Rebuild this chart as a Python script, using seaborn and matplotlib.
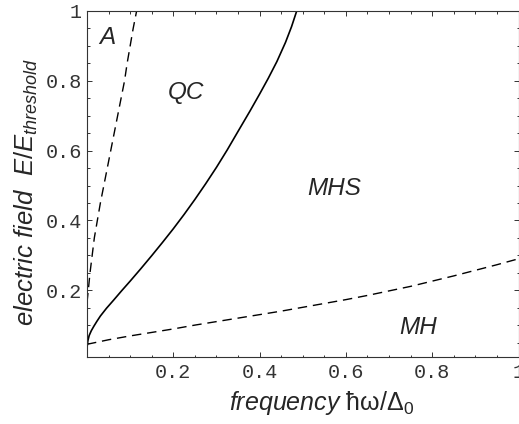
import matplotlib
matplotlib.use("Agg")
import matplotlib.pyplot as plt
import seaborn as sns
import pandas as pd
from matplotlib.ticker import MultipleLocator, FixedLocator, FixedFormatter

# ---- data ----
# solid boundary (QC / MHS)
qc_x = [0.000, 0.002, 0.005, 0.010, 0.016, 0.023, 0.031, 0.045, 0.062, 0.080,
        0.100, 0.125, 0.150, 0.175, 0.200, 0.225, 0.250, 0.275, 0.300, 0.325,
        0.350, 0.378, 0.400, 0.420, 0.440, 0.460, 0.474, 0.486]
qc_y = [0.035, 0.055, 0.070, 0.084, 0.097, 0.111, 0.126, 0.148, 0.172, 0.198,
        0.226, 0.262, 0.299, 0.337, 0.376, 0.417, 0.460, 0.505, 0.552, 0.602,
        0.655, 0.714, 0.762, 0.807, 0.855, 0.910, 0.955, 1.000]
# steep dashed boundary (A / QC)
a_x = [0.000, 0.003, 0.007, 0.012, 0.017, 0.024, 0.031, 0.039, 0.047, 0.055,
       0.063, 0.071, 0.079, 0.087, 0.093, 0.100, 0.107, 0.115]
a_y = [0.165, 0.200, 0.250, 0.300, 0.350, 0.400, 0.450, 0.500, 0.550, 0.600,
       0.650, 0.700, 0.750, 0.800, 0.850, 0.900, 0.950, 1.000]
# lower dashed boundary (MHS / MH)
mh_x = [0.000, 0.050, 0.100, 0.150, 0.200, 0.250, 0.300, 0.350, 0.400, 0.450,
        0.500, 0.550, 0.600, 0.650, 0.700, 0.750, 0.800, 0.850, 0.900, 0.950,
        1.000]
mh_y = [0.045, 0.058, 0.069, 0.079, 0.089, 0.100, 0.110, 0.120, 0.130, 0.140,
        0.151, 0.162, 0.173, 0.185, 0.198, 0.211, 0.226, 0.241, 0.257, 0.273,
        0.290]

tick_vals = [0.2, 0.4, 0.6, 0.8, 1.0]
tick_labels = ["0.2", "0.4", "0.6", "0.8", "1"]

region_names = ["A", "QC", "MHS", "MH"]
region_x = [0.048, 0.229, 0.572, 0.768]
region_y = [0.924, 0.767, 0.491, 0.094]

# ---- style ----
sns.set_style("ticks")
plt.rcParams["font.family"] = ["Liberation Sans", "DejaVu Sans"]
plt.rcParams["mathtext.fontset"] = "custom"
plt.rcParams["mathtext.rm"] = "Liberation Sans"
plt.rcParams["mathtext.it"] = "Liberation Sans:italic"
plt.rcParams["mathtext.bf"] = "Liberation Sans:bold"

fig = plt.figure(figsize=(5.19, 4.24), dpi=100)
ax = fig.add_axes([87 / 519, 67 / 424, 431.5 / 519, 346 / 424])

df_qc = pd.DataFrame({"x": qc_x, "y": qc_y})
df_a = pd.DataFrame({"x": a_x, "y": a_y})
df_mh = pd.DataFrame({"x": mh_x, "y": mh_y})

sns.lineplot(data=df_qc, x="x", y="y", ax=ax, color="black", lw=1.2,
             sort=False, estimator=None)
sns.lineplot(data=df_a, x="x", y="y", ax=ax, color="black", lw=1.0,
             sort=False, estimator=None)
sns.lineplot(data=df_mh, x="x", y="y", ax=ax, color="black", lw=1.0,
             sort=False, estimator=None)
lines = ax.get_lines()
lines[1].set_dashes((6.8, 4.2))
lines[2].set_dashes((6.8, 4.2))
for ln in lines:
    ln.set_solid_joinstyle("round")
    ln.set_dash_joinstyle("round")

ax.set_xlim(0, 1)
ax.set_ylim(0.0086, 1)

ax.xaxis.set_major_locator(FixedLocator(tick_vals))
ax.xaxis.set_major_formatter(FixedFormatter(tick_labels))
ax.yaxis.set_major_locator(FixedLocator(tick_vals))
ax.yaxis.set_major_formatter(FixedFormatter(tick_labels))
ax.xaxis.set_minor_locator(MultipleLocator(0.05))
ax.yaxis.set_minor_locator(MultipleLocator(0.05))

ax.tick_params(which="both", direction="in", top=True, right=True,
               color="#333333", width=0.7)
ax.tick_params(which="major", length=3.6)
ax.tick_params(which="minor", length=1.8)
ax.tick_params(axis="x", which="major", pad=4)
ax.tick_params(axis="y", which="major", pad=3.5)
for lab in ax.get_xticklabels() + ax.get_yticklabels():
    lab.set_family(["Liberation Mono", "DejaVu Sans Mono"])
    lab.set_fontsize(14.5)
    lab.set_color("#333333")

for sp in ax.spines.values():
    sp.set_visible(True)
    sp.set_linewidth(0.8)
    sp.set_color("#333333")

ax.set_xlabel(r"$\mathit{frequency}\ \mathrm{\hbar\omega/\Delta}_0$", fontsize=18)
ax.set_ylabel(r"$\mathit{electric\ field\ \ E/E_{threshold}}$", fontsize=18.5)
ax.xaxis.set_label_coords(0.544, -0.093)
ax.yaxis.set_label_coords(-0.11, 0.478)

for name, x, y in zip(region_names, region_x, region_y):
    ax.text(x, y, name, fontsize=17.5, style="italic", ha="center", va="center")

fig.savefig("out.png", dpi=100)
